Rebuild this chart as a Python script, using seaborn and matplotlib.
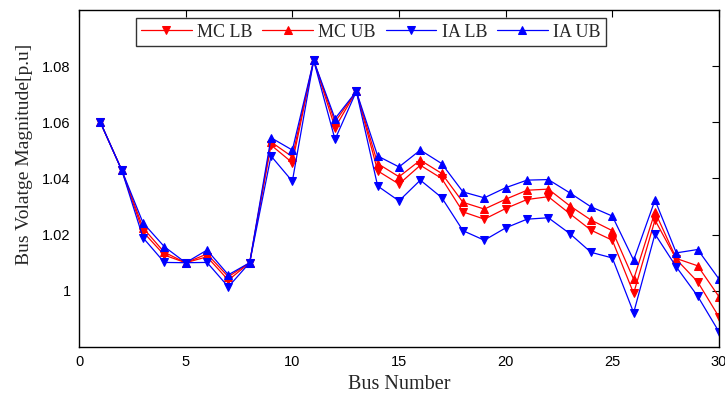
import numpy as np
import pandas as pd
import matplotlib
matplotlib.use("Agg")
import matplotlib.pyplot as plt
import seaborn as sns

bus = list(range(1, 31))

mc_lb = [1.060, 1.043, 1.021, 1.0127, 1.010, 1.0121, 1.0038, 1.010, 1.0519, 1.0456,
         1.082, 1.0581, 1.071, 1.0427, 1.038, 1.0447, 1.040, 1.0281, 1.0255, 1.0293,
         1.0325, 1.0335, 1.0275, 1.0216, 1.018, 0.9991, 1.0252, 1.0112, 1.0032, 0.9907]
mc_ub = [1.060, 1.043, 1.0224, 1.0137, 1.010, 1.0131, 1.005, 1.010, 1.053, 1.0477,
         1.082, 1.0601, 1.071, 1.0453, 1.0406, 1.0465, 1.0418, 1.0315, 1.0291, 1.0326,
         1.0358, 1.0362, 1.0303, 1.0252, 1.0214, 1.0041, 1.0281, 1.0115, 1.0089, 0.9979]
ia_lb = [1.060, 1.043, 1.0189, 1.0101, 1.010, 1.0101, 1.0014, 1.010, 1.048, 1.039,
         1.082, 1.0539, 1.071, 1.0373, 1.032, 1.0394, 1.0332, 1.0214, 1.018, 1.0224,
         1.0255, 1.026, 1.0204, 1.0137, 1.0117, 0.9922, 1.0202, 1.0085, 0.9981, 0.9854]
ia_ub = [1.060, 1.043, 1.0242, 1.0157, 1.010, 1.0145, 1.0057, 1.010, 1.0545, 1.0501,
         1.082, 1.0613, 1.071, 1.048, 1.0441, 1.0501, 1.0453, 1.0352, 1.0331, 1.0367,
         1.0394, 1.0396, 1.0349, 1.0299, 1.0266, 1.0109, 1.0323, 1.0135, 1.0147, 1.0042]

x_ticks = [0, 5, 10, 15, 20, 25, 30]
y_ticks = [1, 1.02, 1.04, 1.06, 1.08]
y_tick_labels = ["1", "1.02", "1.04", "1.06", "1.08"]

sns.set_style("white")
plt.rcParams['font.family'] = ['Liberation Sans', 'DejaVu Sans']

fig = plt.figure(figsize=(7.25, 3.97), dpi=100)
ax = fig.add_axes([0.109, 0.126, 0.8827, 0.849])

series = [
    ("MC LB", mc_lb, "red", "v"),
    ("MC UB", mc_ub, "red", "^"),
    ("IA LB", ia_lb, "blue", "v"),
    ("IA UB", ia_ub, "blue", "^"),
]
for name, vals, col, mk in series:
    sns.lineplot(x=bus, y=vals, color=col, marker=mk, markersize=6,
                 markeredgecolor=col, markerfacecolor=col, linewidth=0.9,
                 label=name, ax=ax)

ax.set_xlim(0, 30)
ax.set_ylim(0.98, 1.1)
ax.set_xticks(x_ticks)
ax.set_yticks(y_ticks)
ax.set_yticklabels(y_tick_labels)
ax.tick_params(direction='in', top=True, right=True, length=5, width=0.8,
               labelsize=10.5, colors='black', pad=6)
for s in ax.spines.values():
    s.set_color('black')
    s.set_linewidth(1.0)

ax.set_xlabel("Bus Number", fontsize=14.5, family=['Liberation Serif'], labelpad=4)
ax.set_ylabel("Bus Volatge Magnitude[p.u]", fontsize=14, family=['Liberation Serif'])
ax.yaxis.set_label_coords(-0.072, 0.57)

leg = ax.legend(loc='upper center', bbox_to_anchor=(0.456, 0.975), ncol=4,
                borderaxespad=0, fancybox=False, handlelength=2.8, handletextpad=0.3,
                columnspacing=0.55, borderpad=0.3,
                prop={'family': 'Liberation Serif', 'size': 13})
leg.get_frame().set_edgecolor('black')
leg.get_frame().set_linewidth(1.0)

fig.savefig("out.png", dpi=100)
